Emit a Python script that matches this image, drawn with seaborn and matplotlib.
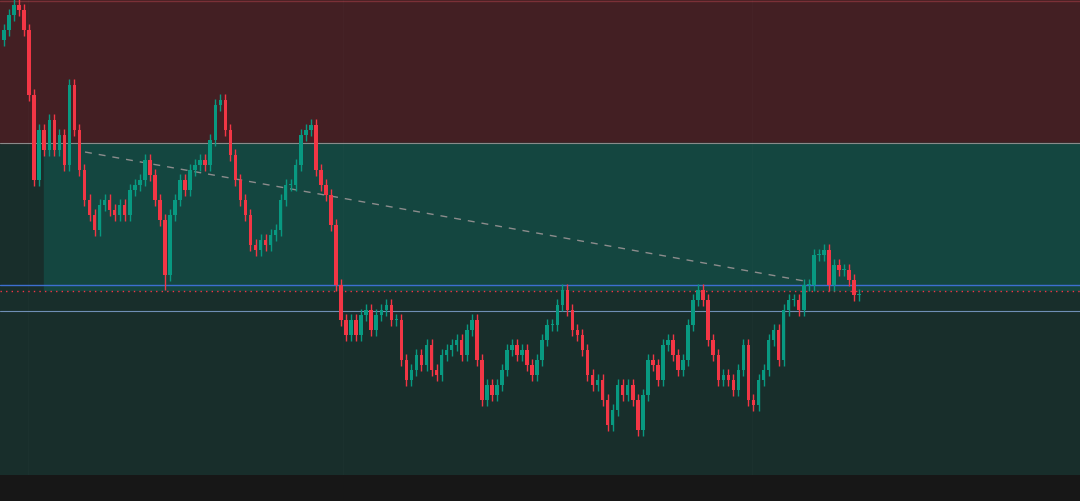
import matplotlib
matplotlib.use("Agg")
import matplotlib.pyplot as plt
import seaborn as sns
import numpy as np
import pandas as pd

# closes (pixel-style price units: 501 - screen y), one per candle
close_y = [30,15,5,10,30,95,180,130,150,120,150,135,165,85,130,170,200,215,230,205,200,210,215,205,215,190,185,180,160,175,
           200,220,275,215,200,180,190,170,165,160,165,140,105,100,130,155,180,200,215,245,250,240,245,235,230,200,185,185,165,135,
           130,125,170,185,195,225,285,320,335,320,335,315,310,330,315,310,305,320,320,360,380,370,355,365,345,370,375,355,350,345,
           340,355,330,320,360,400,385,395,385,370,350,345,355,350,365,375,360,340,325,325,305,290,310,330,335,350,375,385,380,400,
           425,410,385,395,385,400,430,395,360,365,380,345,340,355,370,360,325,300,290,300,340,355,380,375,380,390,370,345,400,405,
           380,370,340,330,360,310,300,300,310,285,285,255,255,250,285,265,270,270,280,295,295]
closes = [501 - v for v in close_y]
first_open = 501 - 40
wick = 6

sns.set_style("dark")
fig = plt.figure(figsize=(10.8, 5.01), dpi=100, facecolor="#171717")
ax = fig.add_axes([0, 26/501, 1, 475/501])
ax.set_facecolor("#182e2b")
ax.set_xlim(0, 1080)
ax.set_ylim(26, 501)

# zones
ax.axhspan(501-143, 501, color="#431f23", zorder=0)
ax.fill_between([44, 1080], 501-290, 501-143, color="#144640", zorder=0)
ax.axhline(501-143, color="#8a8a8a", lw=0.8, zorder=1)
ax.axhline(500, color="#7a3037", lw=1, zorder=1)
for gx in [28, 343, 752]:
    ax.axvline(gx, color="#ffffff", alpha=0.015, lw=1, zorder=1)

n = len(closes)
xs = np.arange(n) * 5.03 + 4
opens = [first_open] + closes[:-1]
df = pd.DataFrame({"x": xs, "open": opens, "close": closes})
df["up"] = df["close"] >= df["open"]
df["hi"] = df[["open", "close"]].max(axis=1) + wick
df["lo"] = df[["open", "close"]].min(axis=1) - wick
df.loc[32, "lo"] = 501 - 290
df.loc[171, "lo"] = 501 - 320
cols = np.where(df["up"], "#089981", "#f23645")
ax.vlines(df["x"], df["lo"], df["hi"], colors=cols, lw=1, zorder=3)
h = (df["close"] - df["open"]).where(lambda s: s.abs() > 1, 1.2)
ax.bar(df["x"], h, bottom=df["open"], width=3.5, color=cols, zorder=4, linewidth=0)

# trend line
tl = pd.DataFrame({"x": [85, 810], "y": [501-152, 501-282]})
sns.lineplot(data=tl, x="x", y="y", ax=ax, color="#8c8c8c", lw=1, ls=(0, (5, 5)), zorder=2)

ax.axhline(501-285, color="#3d6fd0", lw=1, zorder=2)
ax.axhline(501-311, color="#6f8fb5", lw=0.8, zorder=2)
ax.axhline(501-291, color="#f23645", lw=1, ls=(0, (1, 3)), zorder=2)

ax.set_xticks([]); ax.set_yticks([])
ax.set_xlabel(""); ax.set_ylabel("")
for s in ax.spines.values():
    s.set_visible(False)
fig.savefig("out.png", dpi=100, facecolor=fig.get_facecolor())
